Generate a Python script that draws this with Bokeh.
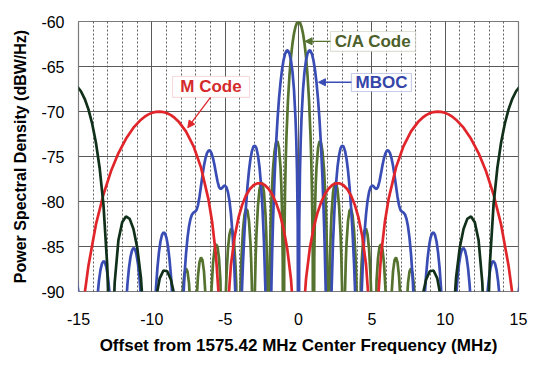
import numpy as np
from bokeh.plotting import figure
from bokeh.models import (Range1d, SingleIntervalTicker, Label, BoxAnnotation,
                          Arrow, NormalHead, CustomJSTickFormatter)
from bokeh.embed import file_html
from bokeh.resources import INLINE

# ---------------- data (positive-frequency half; spectra are symmetric) -------------
# -120 marks a spectral null (far below the -90 dB axis floor)
CA_F = [0.000, 0.102, 0.205, 0.307, 0.409, 0.512, 0.614, 0.716, 0.818, 0.870, 0.921, 0.972, 1.023,
        1.074, 1.125, 1.176, 1.228, 1.330, 1.432, 1.535, 1.637, 1.739, 1.841, 1.893, 1.944, 1.995, 2.046,
        2.097, 2.148, 2.199, 2.251, 2.353, 2.455, 2.558, 2.660, 2.762, 2.864, 2.916, 2.967, 3.018, 3.069,
        3.171, 3.222, 3.274, 3.376, 3.478, 3.581, 3.683, 3.785, 3.887, 3.939, 3.990, 4.092,
        4.245, 4.297, 4.399, 4.501, 4.604, 4.706, 4.808, 4.910, 4.962, 5.115,
        5.320, 5.422, 5.524, 5.627, 5.729, 5.831, 5.933, 6.138,
        6.343, 6.445, 6.547, 6.650, 6.752, 6.854, 6.956, 7.161,
        7.366, 7.468, 7.570, 7.673, 7.775, 7.877, 7.979, 8.184]
CA_DB = [-60.00, -60.14, -60.58, -61.33, -62.42, -63.92, -65.94, -68.69, -72.62, -75.39, -79.23, -85.6, -120,
         -86.48, -80.97, -78.02, -76.15, -74.06, -73.31, -73.46, -74.47, -76.39, -79.67, -82.15, -85.72, -91.85, -120,
         -92.29, -86.59, -83.45, -81.41, -79.02, -77.99, -77.90, -78.68, -80.41, -83.51, -85.90, -89.39, -95.45, -120,
         -89.97, -86.77, -84.67, -82.15, -81.01, -80.82, -81.51, -83.15, -86.16, -88.51, -91.96, -120,
         -89.16, -87.03, -84.45, -83.25, -83.01, -83.64, -85.22, -88.19, -90.52, -120,
         -88.88, -86.27, -85.03, -84.75, -85.35, -86.90, -89.83, -120,
         -90.41, -87.77, -86.51, -86.20, -86.77, -88.30, -91.21, -120,
         -91.71, -89.05, -87.77, -87.44, -88.00, -89.51, -92.4, -120]

MB_F = [0.000, 0.051, 0.102, 0.153, 0.205, 0.307, 0.409, 0.512, 0.614, 0.716, 0.767, 0.818, 0.921,
        1.023, 1.125, 1.228, 1.330, 1.432, 1.535, 1.637, 1.739, 1.790, 1.841, 1.893, 1.944, 2.046,
        2.148, 2.251, 2.353, 2.455, 2.558, 2.660, 2.762, 2.864, 2.967, 3.069, 3.171, 3.274, 3.376,
        3.478, 3.581, 3.683, 3.785, 3.887, 3.990, 4.092,
        4.194, 4.297, 4.399, 4.501, 4.604, 4.706, 4.808, 4.910, 5.013, 5.115,
        5.217, 5.320, 5.422, 5.524, 5.627, 5.729, 5.831, 5.933, 6.036, 6.138,
        6.240, 6.343, 6.445, 6.547, 6.650, 6.752, 6.854, 6.956, 7.059, 7.161,
        7.263, 7.366, 7.468, 7.570, 7.673, 7.775, 7.877, 7.979, 8.184,
        8.593, 8.696, 8.798, 8.900, 9.002, 9.105, 9.207, 9.309, 9.412, 9.514, 9.616, 9.719, 9.821, 10.230,
        10.742, 10.844, 10.946, 11.048, 11.151, 11.253, 11.355, 11.458, 11.560, 11.662, 11.765, 12.276,
        12.890, 12.992, 13.094, 13.197, 13.299, 13.401, 13.504, 13.606, 13.708, 14.322,
        14.834, 14.936, 15.038, 15.140]
MB_DB = [-120, -82.5, -76.55, -73.12, -70.75, -67.59, -65.60, -64.33, -63.58, -63.24, -63.21, -63.27, -63.63,
         -64.34, -65.38, -66.79, -68.60, -70.91, -73.80, -77.49, -82.30, -85.31, -88.89, -93.3, -98.8, -120,
         -99.0, -90.13, -84.56, -80.76, -78.07, -76.17, -74.89, -74.11, -73.79, -73.88, -74.37, -75.25, -76.56,
         -78.31, -80.56, -83.36, -86.83, -91.2, -97.7, -120,
         -97.2, -90.53, -86.42, -83.52, -81.43, -79.94, -78.97, -78.42, -78.23, -78.31,
         -78.52, -78.62, -78.38, -77.75, -76.86, -75.94, -75.17, -74.62, -74.33, -74.34,
         -74.63, -75.20, -76.03, -77.10, -78.31, -79.49, -80.42, -80.95, -81.14, -81.24,
         -81.45, -81.94, -82.79, -84.07, -85.87, -88.27, -91.48, -95.9, -120,
         -90.72, -88.27, -86.37, -84.98, -84.04, -83.53, -83.42, -83.72, -84.45, -85.63, -87.33, -89.66, -92.8, -120,
         -90.71, -88.49, -86.91, -85.88, -85.30, -85.16, -85.46, -86.19, -87.40, -89.16, -91.57, -120,
         -90.03, -88.42, -87.35, -86.76, -86.62, -86.90, -87.62, -88.82, -90.56, -120,
         -93.6, -91.31, -89.69, -88.61]

MC_F = [0.000, 0.256, 0.512, 0.767, 1.023, 1.279, 1.535, 1.790, 2.046, 2.302,
        2.558, 2.813, 3.069, 3.325, 3.581, 3.836, 4.092, 4.348, 4.604, 4.859,
        5.115, 5.371, 5.627, 5.882, 6.138, 6.650, 7.161, 7.673, 8.184, 8.440, 8.696,
        8.951, 9.207, 9.463, 9.719, 9.974, 10.230, 10.486, 10.742, 11.253, 11.765,
        12.276, 12.788, 13.299, 13.811, 14.322, 14.578, 14.834, 15.345]
MC_DB = [-120, -94.55, -88.62, -85.26, -82.98, -81.34, -80.12, -79.22, -78.59, -78.17,
         -77.98, -77.98, -78.20, -78.64, -79.34, -80.36, -81.80, -83.86, -87.00, -92.70,
         -120, -92.19, -86.00, -82.34, -79.77, -76.21, -73.84, -72.21, -71.10, -70.71, -70.40,
         -70.19, -70.06, -70.01, -70.04, -70.14, -70.32, -70.58, -70.91, -71.80, -73.03,
         -74.62, -76.65, -79.22, -82.55, -87.13, -90.23, -94.42, -120]

BK_F = [7.673, 8.184, 8.440, 8.696, 8.951, 9.207, 9.463, 9.719, 10.230,
        10.486, 10.742, 10.997, 11.253, 11.509, 11.765, 12.020, 12.276, 12.532, 12.660, 12.788,
        12.915, 13.043, 13.299, 13.555, 13.811, 14.066, 14.322, 14.578, 14.834, 15.089]
BK_DB = [-120, -93.86, -90.59, -88.69, -87.75, -87.67, -88.55, -90.79, -120,
         -94.69, -88.50, -85.10, -83.05, -81.93, -81.66, -82.30, -84.27, -89.00, -94.46, -120,
         -93.49, -87.05, -80.34, -76.31, -73.47, -71.36, -69.76, -68.59, -67.75, -67.23]

X_TICKS = [-15, -10, -5, 0, 5, 10, 15]
Y_TICKS = [-90, -85, -80, -75, -70, -65, -60]


def mirror(f, d, gap=False):
    f = np.asarray(f, dtype=float)
    d = np.asarray(d, dtype=float)
    mid = [np.nan] if gap else []
    return (np.concatenate([-f[::-1], mid, f]),
            np.concatenate([d[::-1], mid, d]))


FONT = "Liberation Sans"
GREEN, BLUE, RED, DARK = "#55722f", "#3a4db4", "#e0262b", "#11301a"

p = figure(width=532, height=360, output_backend="svg", toolbar_location=None,
           x_range=Range1d(-15, 15), y_range=Range1d(-90, -60),
           min_border_left=78, min_border_right=14, min_border_top=21, min_border_bottom=69)
p.background_fill_color = "white"
p.border_fill_color = "white"
p.outline_line_color = "#7a7a7a"
p.outline_line_width = 1.2

p.xaxis.ticker = SingleIntervalTicker(interval=5, num_minor_ticks=5)
p.yaxis.ticker = SingleIntervalTicker(interval=5, num_minor_ticks=0)
fmt = "return tick.toFixed(0);"
for ax in (p.xaxis[0], p.yaxis[0]):
    ax.formatter = CustomJSTickFormatter(code=fmt)
    ax.axis_line_color = None
    ax.major_tick_line_color = None
    ax.minor_tick_line_color = None
    ax.major_tick_out = 0
    ax.major_label_text_font = FONT
    ax.major_label_text_font_size = "16px"
    ax.major_label_text_color = "black"
    ax.axis_label_text_font = FONT
    ax.axis_label_text_font_style = "bold"
    ax.axis_label_text_color = "black"
p.xaxis.major_label_standoff = 17
p.yaxis.major_label_standoff = 14
p.xaxis.axis_label = "Offset from 1575.42 MHz Center Frequency (MHz)"
p.yaxis.axis_label = "Power Spectral Density (dBW/Hz)"
p.xaxis.axis_label_text_font_size = "17px"
p.yaxis.axis_label_text_font_size = "16px"
p.xaxis.axis_label_standoff = 8
p.yaxis.axis_label_standoff = 9

p.xgrid.grid_line_color = "#5a5a5a"
p.xgrid.grid_line_width = 1
p.xgrid.minor_grid_line_color = "#3a3a3a"
p.xgrid.minor_grid_line_dash = "2 2"
p.xgrid.minor_grid_line_width = 0.8
p.ygrid.grid_line_color = "#5a5a5a"
p.ygrid.grid_line_width = 1

LW = 2.7
x, y = mirror(CA_F, CA_DB)
p.line(x, y, line_color=GREEN, line_width=LW)
x, y = mirror(MB_F, MB_DB)
p.line(x, y, line_color=BLUE, line_width=LW)
x, y = mirror(MC_F, MC_DB)
p.line(x, y, line_color=RED, line_width=LW)
x, y = mirror(BK_F, BK_DB, gap=True)
p.line(x, y, line_color=DARK, line_width=LW)

# annotation boxes
def boxed(text, left, right, top, bottom, tcolor, bcolor):
    p.add_layout(BoxAnnotation(left=left, right=right, top=top, bottom=bottom,
                               fill_color="white", fill_alpha=1.0,
                               line_color=bcolor, line_width=1.2))
    p.add_layout(Label(x=(left + right) / 2, y=(top + bottom) / 2, text=text,
                       text_align="center", text_baseline="middle",
                       text_font=FONT, text_font_style="bold",
                       text_font_size="17px", text_color=tcolor))

def arrow(x0, y0, x1, y1, color):
    p.add_layout(Arrow(x_start=x0, y_start=y0, x_end=x1, y_end=y1,
                       line_color=color, line_width=1.3,
                       end=NormalHead(size=7, fill_color=color, line_color=color)))

boxed("M Code", -8.59, -3.34, -66.11, -68.44, "#d42a2c", "#e08a8a")
arrow(-6.0, -68.44, -7.55, -71.8, RED)
boxed("C/A Code", 2.18, 7.98, -61.11, -63.33, "#4b602a", "#8f9c78")
arrow(2.18, -62.2, 0.45, -62.2, GREEN)
boxed("MBOC", 3.61, 7.70, -65.78, -67.78, "#3545a8", "#4a5ab8")
arrow(3.61, -66.75, 1.36, -66.75, BLUE)

open("out.html", "w").write(file_html(p, INLINE))
